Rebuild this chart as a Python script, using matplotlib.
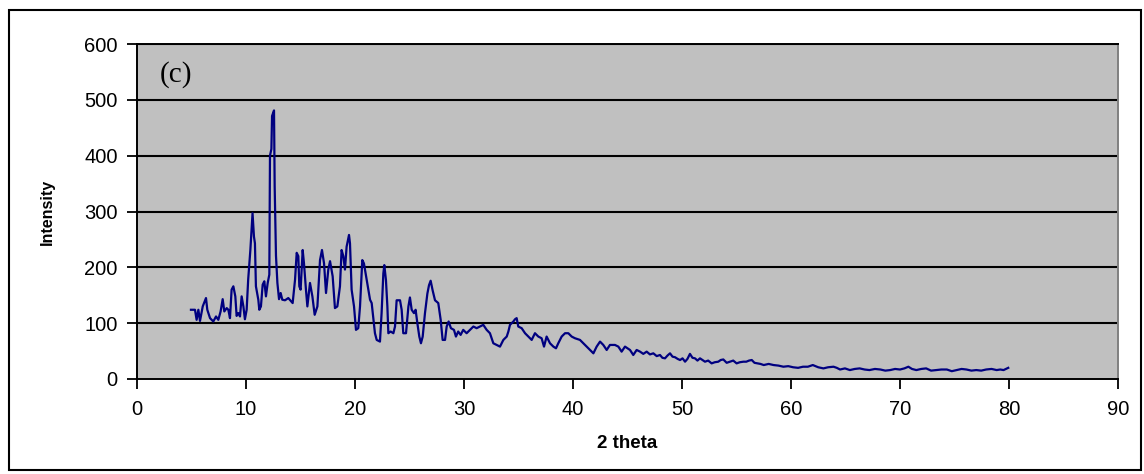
import matplotlib
matplotlib.use("Agg")
import matplotlib.pyplot as plt
from matplotlib.patches import Rectangle

two_theta = [
    4.95, 5.32, 5.47, 5.63, 5.78, 6.03, 6.33, 6.45, 6.70, 7.00, 7.25, 7.46, 7.67, 7.86, 8.01,
    8.23, 8.38, 8.53, 8.68, 8.84, 9.02, 9.14, 9.30, 9.45, 9.60, 9.76, 9.90, 10.06, 10.20, 10.40,
    10.60, 10.73, 10.82, 10.91, 11.13, 11.22, 11.37, 11.53, 11.68, 11.83, 11.99, 12.14, 12.20,
    12.33, 12.39, 12.57, 12.63, 12.75, 12.88, 13.03, 13.18, 13.33, 13.58, 13.88, 14.28, 14.50,
    14.65, 14.80, 14.89, 15.01, 15.20, 15.32, 15.50, 15.63, 15.87, 16.09, 16.30, 16.55, 16.79,
    16.97, 17.16, 17.34, 17.55, 17.71, 17.95, 18.16, 18.38, 18.62, 18.77, 18.93, 19.08, 19.23,
    19.45, 19.54, 19.69, 19.91, 20.09, 20.30, 20.46, 20.67, 20.82, 21.07, 21.22, 21.38, 21.53,
    21.83, 21.99, 22.29, 22.44, 22.60, 22.69, 22.84, 22.97, 23.06, 23.27, 23.52, 23.67, 23.82,
    24.13, 24.28, 24.43, 24.68, 24.90, 25.04, 25.20, 25.41, 25.56, 25.72, 25.90, 26.05, 26.21,
    26.42, 26.64, 26.79, 26.94, 27.12, 27.34, 27.64, 27.86, 28.04, 28.26, 28.41, 28.59, 28.80,
    29.08, 29.26, 29.47, 29.69, 29.93, 30.24, 30.55, 30.86, 31.16, 31.47, 31.77, 32.08, 32.38,
    32.69, 33.00, 33.30, 33.61, 33.92, 34.07, 34.22, 34.53, 34.68, 34.83, 34.98, 35.29, 35.60,
    35.90, 36.21, 36.51, 36.82, 37.12, 37.34, 37.58, 37.89, 38.20, 38.44, 38.65, 38.96, 39.27,
    39.57, 39.88, 40.18, 40.64, 41.10, 41.56, 41.87, 42.17, 42.48, 42.78, 43.09, 43.39, 43.85,
    44.16, 44.46, 44.77, 45.23, 45.53, 45.84, 46.15, 46.45, 46.76, 47.06, 47.37, 47.68, 47.98,
    48.20, 48.44, 48.67, 48.90, 49.13, 49.36, 49.60, 49.82, 50.05, 50.28, 50.50, 50.73, 50.96,
    51.19, 51.42, 51.65, 51.88, 52.11, 52.40, 52.72, 53.00, 53.33, 53.55, 53.79, 54.10, 54.40,
    54.70, 55.01, 55.30, 55.63, 55.90, 56.15, 56.40, 56.65, 56.90, 57.20, 57.50, 57.95, 58.40,
    58.85, 59.30, 59.75, 60.20, 60.65, 61.10, 61.55, 62.00, 62.50, 62.97, 63.40, 63.90, 64.20,
    64.50, 64.95, 65.40, 65.85, 66.30, 66.75, 67.20, 67.70, 68.20, 68.65, 69.10, 69.55, 70.00,
    70.40, 70.77, 71.10, 71.50, 71.95, 72.40, 72.85, 73.30, 73.80, 74.30, 74.75, 75.20, 75.65,
    76.10, 76.55, 77.00, 77.45, 77.90, 78.40, 78.87, 79.20, 79.50, 79.93,
]
intensity = [
    124, 124, 106, 124, 104, 130, 145, 124, 109, 103, 112, 106, 121, 143, 121,
    127, 124, 109, 160, 166, 148, 113, 118, 112, 148, 130, 107, 124, 178, 231,
    297, 255, 243, 166, 142, 124, 130, 169, 175, 148, 172, 187, 400,
    412, 471, 481, 345, 221, 172, 143, 154, 142, 141, 145, 136, 178,
    226, 220, 166, 160, 231, 207, 160, 130, 172, 148, 115, 130, 213,
    231, 207, 154, 196, 211, 184, 127, 130, 166, 231, 220, 196, 237,
    258, 243, 160, 130, 88, 91, 130, 213, 207, 178, 160, 142, 136,
    82, 70, 67, 118, 189, 204, 177, 130, 82, 85, 82, 94, 141,
    141, 124, 82, 82, 130, 146, 124, 118, 124, 100, 76, 64, 76,
    118, 153, 168, 176, 159, 141, 136, 106, 70, 70, 94, 103, 91,
    88, 76, 85, 79, 88, 82, 88, 94, 91, 94, 97, 88, 82,
    64, 61, 58, 70, 76, 85, 97, 103, 107, 109, 94, 91, 82,
    76, 70, 82, 76, 73, 58, 76, 64, 58, 55, 64, 76, 82,
    82, 76, 73, 70, 61, 52, 46, 58, 67, 61, 52, 61, 61,
    58, 49, 58, 52, 43, 52, 49, 45, 49, 44, 46, 41, 43,
    38, 37, 42, 46, 40, 39, 36, 34, 37, 31, 36, 45, 38,
    37, 33, 37, 34, 31, 33, 28, 30, 31, 34, 35, 29, 31,
    33, 28, 30, 31, 31, 33, 34, 29, 28, 27, 25, 27, 25,
    24, 22, 23, 21, 20, 22, 22, 25, 21, 19, 21, 22, 20,
    17, 19, 16, 18, 19, 17, 16, 18, 17, 15, 16, 18, 17,
    19, 22, 18, 16, 18, 19, 15, 16, 17, 17, 14, 16, 18,
    17, 15, 16, 15, 17, 18, 16, 17, 16, 20,
]

x_ticks = [0, 10, 20, 30, 40, 50, 60, 70, 80, 90]
y_ticks = [0, 100, 200, 300, 400, 500, 600]

plt.rcParams['font.family'] = ['Liberation Sans', 'DejaVu Sans']

fig = plt.figure(figsize=(11.44, 4.74), dpi=100)
ax = fig.add_axes([137/1144, 1-379/474, (1118-137)/1144, (379-44)/474])
ax.set_facecolor('#C0C0C0')

for yv in y_ticks[1:]:
    ax.axhline(yv, color='black', lw=1.5, zorder=1)

ax.plot(two_theta, intensity, color='#000080', lw=1.6, zorder=3)

ax.set_xlim(0, 90)
ax.set_ylim(0, 600)
ax.set_xticks(x_ticks)
ax.set_yticks(y_ticks)
ax.tick_params(direction='out', length=7, width=1.3, labelsize=14.5, colors='black')
ax.tick_params(axis='x', pad=8)
ax.tick_params(axis='y', pad=7)
for s in ['left', 'bottom', 'top']:
    ax.spines[s].set_color('black')
    ax.spines[s].set_linewidth(1.4)
ax.spines['right'].set_color('#808080')
ax.spines['right'].set_linewidth(1.4)

ax.set_xlabel('2 theta', fontsize=13.5, fontweight='bold', labelpad=12)
ax.set_ylabel('Intensity', fontsize=11.5, fontweight='bold', labelpad=21)

ax.text(0.023, 0.91, '(c)', transform=ax.transAxes, fontsize=21,
        family=['Liberation Serif', 'DejaVu Serif'], va='center', ha='left')

fig.patches.append(Rectangle((9/1144, 4/474), (1141-9)/1144, (464-4)/474,
                             transform=fig.transFigure, fill=False,
                             edgecolor='black', lw=1.5))

fig.savefig('out.png', dpi=100)
